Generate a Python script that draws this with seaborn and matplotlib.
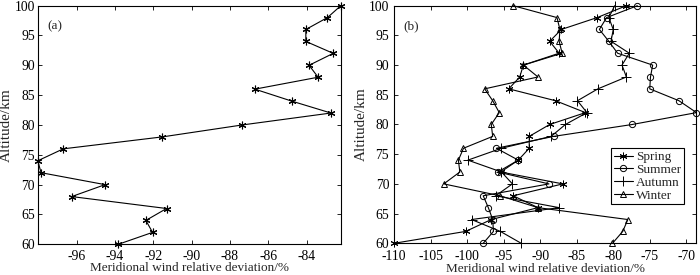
import numpy as np
import pandas as pd
import seaborn as sns
import matplotlib
matplotlib.use("Agg")
import matplotlib.pyplot as plt
from matplotlib.lines import Line2D

altitude = [60, 62, 64, 66, 68, 70, 72, 74, 76, 78, 80, 82, 84, 86, 88, 90, 92, 94, 96, 98, 100]

annual = [-93.83, -92.04, -92.39, -91.31, -96.26, -94.52, -97.86, -98.03, -96.70, -91.53,
          -87.36, -82.73, -84.78, -86.70, -83.40, -83.87, -82.61, -84.04, -84.04, -82.91, -82.21]

spring = [-110.0, -100.2, -96.7, -90.3, -93.7, -86.9, -95.4, -93.0, -91.5, -91.5,
          -88.7, -83.8, -87.9, -94.3, -92.8, -92.3, -87.4, -88.7, -87.1, -82.2, -78.2]
summer = [-97.8, -96.4, -96.5, -97.1, -97.8, -88.8, -95.8, -93.0, -96.0, -88.15,
          -77.4, -68.6, -71.0, -75.0, -74.9, -74.6, -79.4, -80.6, -81.9, -80.9, -76.7]
autumn = [-92.6, -95.45, -99.4, -87.4, -96.1, -93.8, -95.3, -99.9, -95.3, -88.5,
          -86.55, -83.6, -84.9, -82.1, -78.2, -78.8, -77.8, -80.3, -80.0, -80.6, -79.8]
winter = [-80.1, -78.7, -78.0, -90.3, -95.5, -103.2, -101.0, -101.2, -100.5, -96.5,
          -96.7, -95.6, -96.5, -97.6, -90.3, -92.3, -87.0, -87.4, -87.3, -87.7, -93.7]

season_names = ["Spring", "Summer", "Autumn", "Winter"]
season_values = [spring, summer, autumn, winter]

xticks_a = [-96, -94, -92, -90, -88, -86, -84]
xticks_b = [-110, -105, -100, -95, -90, -85, -80, -75, -70]
yticks = [60, 65, 70, 75, 80, 85, 90, 95, 100]

sns.set_style("ticks")
plt.rcParams["font.family"] = ["Liberation Serif", "DejaVu Serif"]
plt.rcParams["axes.unicode_minus"] = False

asterisk = (6, 2, 0)
markers = [asterisk, "o", "+", "^"]
msizes = [5.5, 4.5, 6.5, 5]

fig = plt.figure(figsize=(7.0, 2.75), dpi=100)
ax1 = fig.add_axes([0.054, 0.1116, 0.433, 0.868])
ax2 = fig.add_axes([0.563, 0.1153, 0.432, 0.864])

fs = 9.5
tfs = 9.8

def style_axis(ax, xticks, xlim, xpad, ypad, xlabelpad):
    ax.set_xlim(*xlim)
    ax.set_ylim(60, 100)
    ax.set_xticks(xticks)
    ax.set_yticks(yticks)
    ax.tick_params(direction="in", length=3, width=0.6, top=True, right=True,
                   labelsize=tfs, colors="black")
    ax.tick_params(axis="x", pad=xpad)
    ax.tick_params(axis="y", pad=ypad)
    for s in ax.spines.values():
        s.set_visible(True)
        s.set_linewidth(0.8)
        s.set_color("black")
    ax.set_xlabel("Meridional wind relative deviation/%", fontsize=fs, labelpad=xlabelpad)
    ax.set_ylabel("Altitude/km", fontsize=11, labelpad=1)

# Panel (a)
df_a = pd.DataFrame({"dev": annual, "alt": altitude})
sns.lineplot(data=df_a, x="dev", y="alt", sort=False, estimator=None, ax=ax1,
             color="black", linewidth=0.8, marker=asterisk, markersize=5.5,
             markeredgecolor="black", markeredgewidth=0.8, clip_on=False)
style_axis(ax1, xticks_a, (min(annual), max(annual)), 4, 2, -0.5)
ax1.text(0.03, 0.94, "(a)", transform=ax1.transAxes, fontsize=fs, va="top", ha="left")

# Panel (b)
allvals = spring + summer + autumn + winter
handles = []
for name, vals, mk, ms in zip(season_names, season_values, markers, msizes):
    df = pd.DataFrame({"dev": vals, "alt": altitude})
    sns.lineplot(data=df, x="dev", y="alt", sort=False, estimator=None, ax=ax2,
                 color="black", linewidth=0.8, marker=mk, markersize=ms,
                 markerfacecolor="none", markeredgecolor="black",
                 markeredgewidth=0.7, clip_on=False)
    handles.append(Line2D([], [], color="black", linewidth=0.8, marker=mk,
                          markersize=ms, markerfacecolor="none",
                          markeredgecolor="black", markeredgewidth=0.7, label=name))
style_axis(ax2, xticks_b, (min(allvals), max(allvals)), 4.8, 3.5, -0.3)
ax2.text(0.03, 0.94, "(b)", transform=ax2.transAxes, fontsize=fs, va="top", ha="left")

leg = ax2.legend(handles=handles, loc="upper left", bbox_to_anchor=(0.717, 0.40),
                 fontsize=fs, frameon=True, fancybox=False, edgecolor="black",
                 framealpha=1, handlelength=1.5, handletextpad=0.2,
                 borderpad=0.2, labelspacing=0.05, borderaxespad=0)
leg.get_frame().set_linewidth(0.8)

fig.savefig("out.png", dpi=100)
